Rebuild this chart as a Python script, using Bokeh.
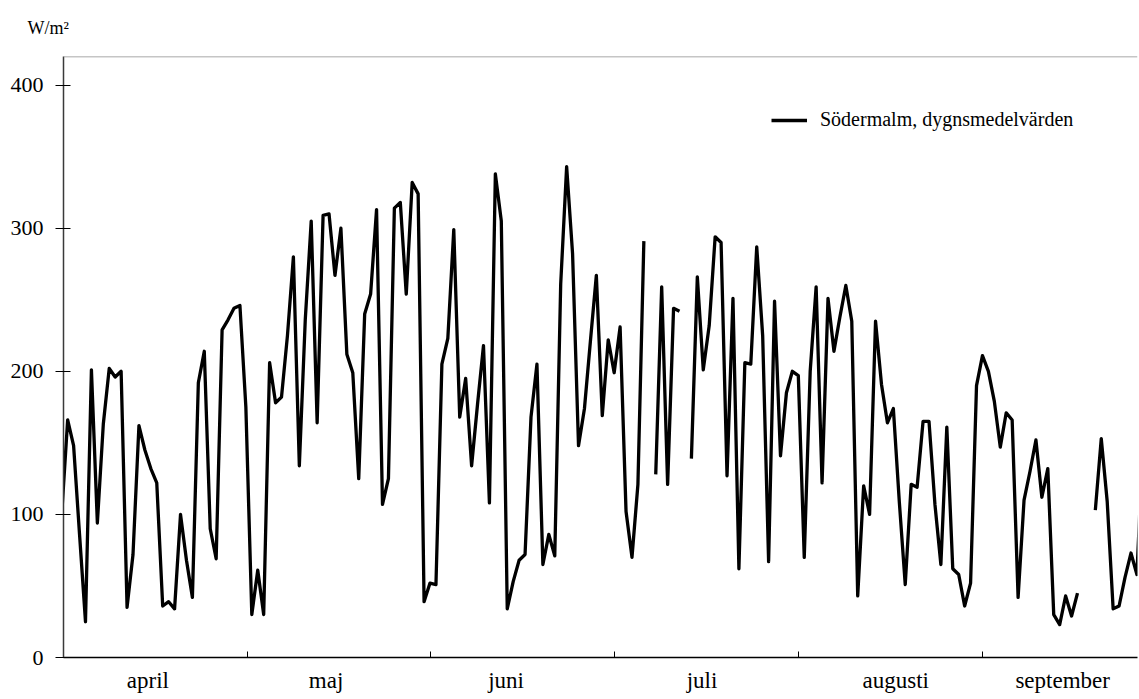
import numpy as np
from bokeh.plotting import figure
from bokeh.models import Range1d, FixedTicker, Span, Title, Legend, LegendItem
from bokeh.embed import file_html
from bokeh.resources import INLINE

# Daily mean global radiation at Södermalm (W/m²), day 0 = 1 April; None = missing day
radiation = [
    100, 166, 148, 86, 25, 201, 94, 163, 202, 196,
    200, 35, 72, 162, 145, 132, 122, 36, 39, 34,
    100, 68, 42, 192, 214, 90, 69, 229, 236, 244,
    246, 175, 30, 61, 30, 206, 178, 182, 225, 280,
    134, 236, 305, 164, 309, 310, 267, 300, 212, 199,
    125, 240, 254, 313, 107, 125, 314, 318, 254, 332,
    324, 39, 52, 51, 205, 223, 299, 168, 195, 134,
    177, 218, 108, 338, 305, 34, 53, 68, 72, 168,
    205, 65, 86, 71, 261, 343, 282, 148, 174, 221,
    267, 169, 222, 199, 231, 102, 70, 121, 291, None,
    128, 259, 121, 244, 242, None, 139, 266, 201, 232,
    294, 290, 127, 251, 62, 206, 205, 287, 225, 67,
    249, 141, 185, 200, 197, 70, 200, 259, 122, 251,
    214, 238, 260, 235, 43, 120, 100, 235, 191, 164,
    174, 109, 51, 121, 119, 165, 165, 107, 65, 161,
    62, 58, 36, 52, 190, 211, 200, 179, 147, 171,
    166, 42, 110, 130, 152, 112, 132, 30, 23, 43,
    29, 45, None, None, 103, 153, 109, 34, 36, 56,
    73, 58, 150,
]
months = ["april", "maj", "juni", "juli", "augusti", "september"]
y_ticks = [0, 100, 200, 300, 400]
series_name = "Södermalm, dygnsmedelvärden"
unit_text = "W/m²"

days = np.arange(len(radiation))
values = np.array([np.nan if v is None else v for v in radiation], dtype=float)

# month boundaries (tick marks) and month-name positions along the day axis
x_start, month_len = 0.3, 30.93
month_edges = [x_start + month_len * k for k in range(6)]
month_label_pos = [14.5, 44.5, 74.8, 107.8, 140.4, 168.5]

SERIF = "Liberation Serif"

# unit caption, shown top-left above the y axis
unit_title = Title(text=unit_text, align="left", offset=-36, standoff=34,
                   vertical_align="top",
                   text_font=SERIF, text_font_size="18px", text_font_style="normal",
                   text_color="black")

p = figure(
    width=1139, height=699,
    x_range=Range1d(x_start, 181.1), y_range=Range1d(0, 420),
    output_backend="svg", toolbar_location=None, title=unit_title,
    min_border_left=63, min_border_right=2, min_border_top=56, min_border_bottom=42,
)
p.outline_line_color = None
p.xgrid.visible = False
p.ygrid.visible = False
p.background_fill_color = "white"
p.border_fill_color = "white"

line = p.line(days, values, line_color="black", line_width=3.3, line_join="round")

# x axis: month names between boundary ticks
xa = p.xaxis[0]
xa.ticker = FixedTicker(ticks=month_label_pos, minor_ticks=month_edges)
xa.major_label_overrides = {pos: name for pos, name in zip(month_label_pos, months)}
xa.major_tick_in = 0
xa.major_tick_out = 0
xa.minor_tick_in = 6
xa.minor_tick_out = 0
xa.minor_tick_line_color = "black"
xa.axis_line_color = "black"
xa.axis_line_width = 1.5
xa.major_label_text_font = SERIF
xa.major_label_text_font_size = "23px"
xa.major_label_text_color = "black"
xa.major_label_standoff = 10

# y axis
ya = p.yaxis[0]
ya.ticker = FixedTicker(ticks=y_ticks, minor_ticks=[])
ya.major_tick_in = 7
ya.major_tick_out = 8
ya.major_tick_line_color = "black"
ya.axis_line_color = "#3a3a3a"
ya.axis_line_width = 1.5
ya.major_label_text_font = SERIF
ya.major_label_text_font_size = "22px"
ya.major_label_text_color = "black"
ya.major_label_standoff = 12

# thin top border of the plot area
p.add_layout(Span(location=420, dimension="width", line_color="#8c8c8c", line_width=1.5))

legend = Legend(
    items=[LegendItem(label=series_name, renderers=[line])],
    location=(708, 526),
    border_line_color=None, background_fill_alpha=0,
    padding=0, margin=0, spacing=0,
    glyph_width=36, glyph_height=20, label_standoff=13,
    label_text_font=SERIF, label_text_font_size="20px", label_text_color="black",
)
p.add_layout(legend)

open("out.html", "w").write(file_html(p, INLINE))
